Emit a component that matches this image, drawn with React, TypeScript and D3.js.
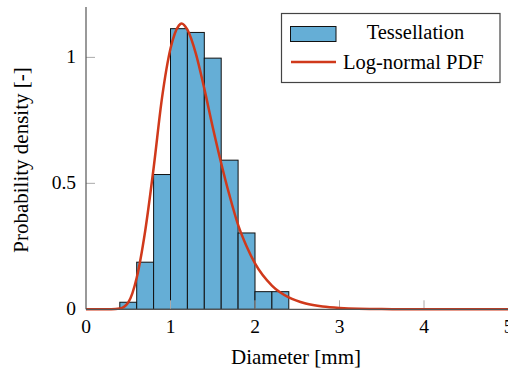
import React, { useEffect, useRef } from 'react';
import * as d3 from 'd3';

// histogram bins (bin start, width 0.2) and density
const binStarts = [0.4, 0.6, 0.8, 1.0, 1.2, 1.4, 1.6, 1.8, 2.0, 2.2];
const binDensity = [0.028, 0.187, 0.535, 1.114, 1.099, 0.997, 0.592, 0.303, 0.07, 0.07];
const binWidth = 0.2;

// log-normal curve
const pdfX = [0, 0.3, 0.4, 0.5, 0.6, 0.7, 0.8, 0.9, 1.0, 1.1, 1.13, 1.2, 1.3, 1.4, 1.5, 1.6, 1.7, 1.8, 1.9, 2.0, 2.2, 2.4, 2.6, 2.8, 3.0, 3.5, 4.0, 5.0];
const pdfY = [0, 0.0001, 0.003, 0.027, 0.125, 0.31, 0.56, 0.84, 1.035, 1.127, 1.135, 1.11, 1.015, 0.876, 0.723, 0.58, 0.45, 0.335, 0.25, 0.182, 0.094, 0.047, 0.023, 0.011, 0.0056, 0.0009, 0.0001, 0];

const xTicks = [0, 1, 2, 3, 4, 5];
const yTicks = [0, 0.5, 1];

const W = 508;
const H = 374;
const FONT = '"Liberation Serif", "Times New Roman", serif';
const BAR_FILL = '#65aed6';
const LINE_COLOR = '#d0391b';

const App = () => {
  const ref = useRef<SVGSVGElement>(null);

  useEffect(() => {
    const svg = d3.select(ref.current);
    svg.selectAll('*').remove();

    const margin = { top: 7, right: 0, bottom: 65, left: 86 };
    const x = d3.scaleLinear().domain([0, 5]).range([margin.left, 508.5]);
    const y = d3.scaleLinear().domain([0, 1.2]).range([309.3, margin.top]);

    const g = svg.append('g');

    // bars
    g.selectAll('rect.bar')
      .data(binStarts)
      .enter()
      .append('rect')
      .attr('class', 'bar')
      .attr('x', d => x(d))
      .attr('y', (d, i) => y(binDensity[i]))
      .attr('width', x(binWidth) - x(0))
      .attr('height', (d, i) => y(0) - y(binDensity[i]))
      .attr('fill', BAR_FILL)
      .attr('stroke', '#111')
      .attr('stroke-width', 1);

    // ticks (inside)
    xTicks.slice(1).forEach(t => {
      g.append('line')
        .attr('x1', x(t)).attr('x2', x(t))
        .attr('y1', y(0)).attr('y2', y(0) - 9)
        .attr('stroke', '#aaa').attr('stroke-width', 1);
    });
    yTicks.slice(1).forEach(t => {
      g.append('line')
        .attr('x1', x(0)).attr('x2', x(0) + 9)
        .attr('y1', y(t)).attr('y2', y(t))
        .attr('stroke', '#aaa').attr('stroke-width', 1);
    });

    // pdf curve
    const line = d3.line<number>()
      .x(d => x(d))
      .y((d, i) => y(pdfY[i]))
      .curve(d3.curveMonotoneX);
    g.append('path')
      .attr('d', line(pdfX))
      .attr('fill', 'none')
      .attr('stroke', LINE_COLOR)
      .attr('stroke-width', 2.5);

    // axis lines
    g.append('line')
      .attr('x1', x(0)).attr('x2', W)
      .attr('y1', y(0)).attr('y2', y(0))
      .attr('stroke', '#555').attr('stroke-width', 1.2);
    g.append('line')
      .attr('x1', x(0)).attr('x2', x(0))
      .attr('y1', y(0)).attr('y2', y(1.2))
      .attr('stroke', '#555').attr('stroke-width', 1.2);

    // tick labels
    xTicks.forEach(t => {
      svg.append('text')
        .attr('x', x(t)).attr('y', 333)
        .attr('text-anchor', 'middle')
        .style('font-family', FONT).style('font-size', '19.5px')
        .text(String(t));
    });
    yTicks.forEach(t => {
      svg.append('text')
        .attr('x', 76).attr('y', y(t) + 6)
        .attr('text-anchor', 'end')
        .style('font-family', FONT).style('font-size', '19.5px')
        .text(String(t));
    });

    // axis labels
    svg.append('text')
      .attr('x', 296).attr('y', 364)
      .attr('text-anchor', 'middle')
      .style('font-family', FONT).style('font-size', '21px')
      .text('Diameter [mm]');
    svg.append('text')
      .attr('transform', 'rotate(-90)')
      .attr('x', -160).attr('y', 28)
      .attr('text-anchor', 'middle')
      .style('font-family', FONT).style('font-size', '21px')
      .text('Probability density [-]');

    // legend
    const leg = svg.append('g');
    leg.append('rect')
      .attr('x', 281.5).attr('y', 13.5).attr('width', 218.5).attr('height', 69)
      .attr('fill', 'white').attr('stroke', '#444').attr('stroke-width', 1.2);
    leg.append('rect')
      .attr('x', 290.5).attr('y', 26.5).attr('width', 45.5).attr('height', 15)
      .attr('fill', BAR_FILL).attr('stroke', '#111').attr('stroke-width', 1);
    leg.append('text')
      .attr('x', 415.5).attr('y', 39)
      .attr('text-anchor', 'middle')
      .style('font-family', FONT).style('font-size', '20.5px')
      .text('Tessellation');
    leg.append('line')
      .attr('x1', 291).attr('x2', 336).attr('y1', 62).attr('y2', 62)
      .attr('stroke', LINE_COLOR).attr('stroke-width', 2.5);
    leg.append('text')
      .attr('x', 343).attr('y', 69)
      .style('font-family', FONT).style('font-size', '20.5px')
      .text('Log-normal PDF');
  }, []);

  return (
    <svg
      ref={ref}
      width={W}
      height={H}
      style={{ position: 'absolute', left: 0, top: 0, background: 'white' }}
    />
  );
};

export default App;
